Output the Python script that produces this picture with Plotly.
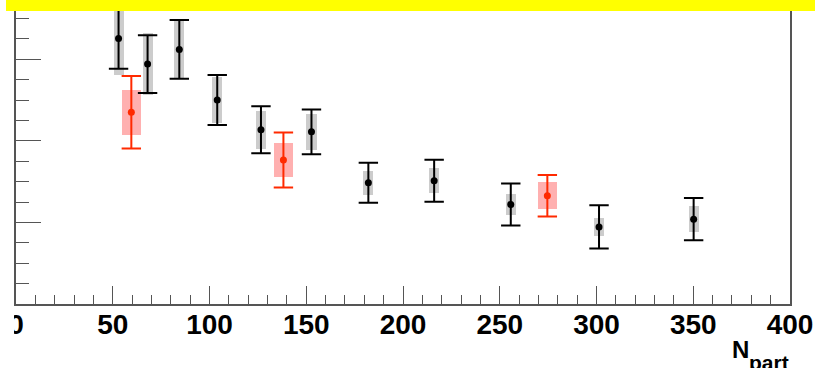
import numpy as np
import plotly.graph_objects as go

# Black series: Npart, value, stat error, systematic half-height
npart_blk = [53.0, 68.0, 84.4, 104.0, 126.6, 152.7, 182.1, 216.1, 255.7, 301.3, 350.2]
val_blk = [0.651, 0.588, 0.624, 0.500, 0.427, 0.422, 0.297, 0.302, 0.244, 0.189, 0.208]
stat_blk = [0.0745, 0.071, 0.072, 0.061, 0.0576, 0.055, 0.049, 0.0515, 0.0515, 0.053, 0.052]
sys_blk = [0.0907, 0.0765, 0.069, 0.057, 0.047, 0.044, 0.029, 0.031, 0.0257, 0.022, 0.031]

# Red series
npart_red = [59.6, 138.2, 274.6]
val_red = [0.470, 0.353, 0.2654]
stat_red = [0.0887, 0.0674, 0.051]
sys_red = [0.0547, 0.042, 0.0335]

xticks = [0, 50, 100, 150, 200, 250, 300, 350, 400]

W, H = 815, 368
ML, MR, MT, MB = 16, 25, 0, 64
PW, PH = W - ML - MR, H - MT - MB

RED = "#ff2a00"
AXC = "#555555"

vb = np.array(val_blk); sb = np.array(sys_blk)
vr = np.array(val_red); sr = np.array(sys_red)

fig = go.Figure()

# systematic boxes
fig.add_trace(go.Bar(x=npart_blk, y=2 * sb, base=vb - sb, width=5.2,
                     marker=dict(color="#cccccc", line=dict(width=0)),
                     hoverinfo="skip", showlegend=False))
fig.add_trace(go.Bar(x=npart_red, y=2 * sr, base=vr - sr, width=9.8,
                     marker=dict(color="#ffb0b0", line=dict(width=0)),
                     hoverinfo="skip", showlegend=False))

# points with statistical errors
fig.add_trace(go.Scatter(x=npart_blk, y=val_blk, mode="markers",
                         marker=dict(color="black", size=7),
                         error_y=dict(type="data", array=stat_blk, color="black",
                                      thickness=2, width=9.7),
                         showlegend=False))
fig.add_trace(go.Scatter(x=npart_red, y=val_red, mode="markers",
                         marker=dict(color=RED, size=7),
                         error_y=dict(type="data", array=stat_red, color=RED,
                                      thickness=2, width=9.7),
                         showlegend=False))

tickfont = dict(family="Liberation Sans", size=28, color="black", weight="bold")

fig.update_layout(
    width=W, height=H,
    margin=dict(l=ML, r=MR, t=MT, b=MB, pad=0),
    paper_bgcolor="white", plot_bgcolor="white",
    barmode="overlay", bargap=0,
    xaxis=dict(range=[0, 400], tickvals=xticks, ticktext=[str(v) for v in xticks],
               ticks="inside", ticklen=18, tickwidth=1, tickcolor=AXC,
               minor=dict(dtick=10, tick0=0, ticks="inside", ticklen=9,
                          tickwidth=1, tickcolor=AXC, showgrid=False),
               showgrid=False, zeroline=False, showline=True, linecolor=AXC,
               linewidth=1.5, tickfont=tickfont, ticklabelstandoff=-5),
    yaxis=dict(range=[0, PH / 408.0], dtick=0.2, tick0=0,
               ticks="inside", ticklen=25, tickwidth=1, tickcolor=AXC,
               minor=dict(dtick=0.05, tick0=0, ticks="inside", ticklen=13,
                          tickwidth=1, tickcolor=AXC, showgrid=False),
               showticklabels=False, showgrid=False, zeroline=False,
               showline=True, linecolor=AXC, linewidth=1.5, mirror=True),
)

# yellow header band
fig.add_shape(type="rect", xref="paper", yref="paper",
              x0=(6 - ML) / PW, x1=(W - ML) / PW + 0.01,
              y0=1 - 11 / PH, y1=1 + 5 / PH,
              fillcolor="#ffff00", line=dict(width=0), layer="above")

# left margin strip below the axis is blank
fig.add_shape(type="rect", xref="paper", yref="paper",
              x0=-ML / PW - 0.01, x1=(14 - ML) / PW,
              y0=-MB / PH - 0.01, y1=-2 / PH,
              fillcolor="white", line=dict(width=0), layer="above")

# axis title N_part
fig.add_annotation(text="<b>N</b>", xref="paper", yref="paper",
                   x=(751 - ML) / PW, y=0, xanchor="right", yanchor="top",
                   yshift=-30, showarrow=False,
                   font=dict(family="Liberation Sans", size=24, color="black"))
fig.add_annotation(text="<b>part</b>", xref="paper", yref="paper",
                   x=(791 - ML) / PW, y=0, xanchor="right", yanchor="top",
                   yshift=-45, showarrow=False,
                   font=dict(family="Liberation Sans", size=21, color="black"))

fig.write_html("out.html")
